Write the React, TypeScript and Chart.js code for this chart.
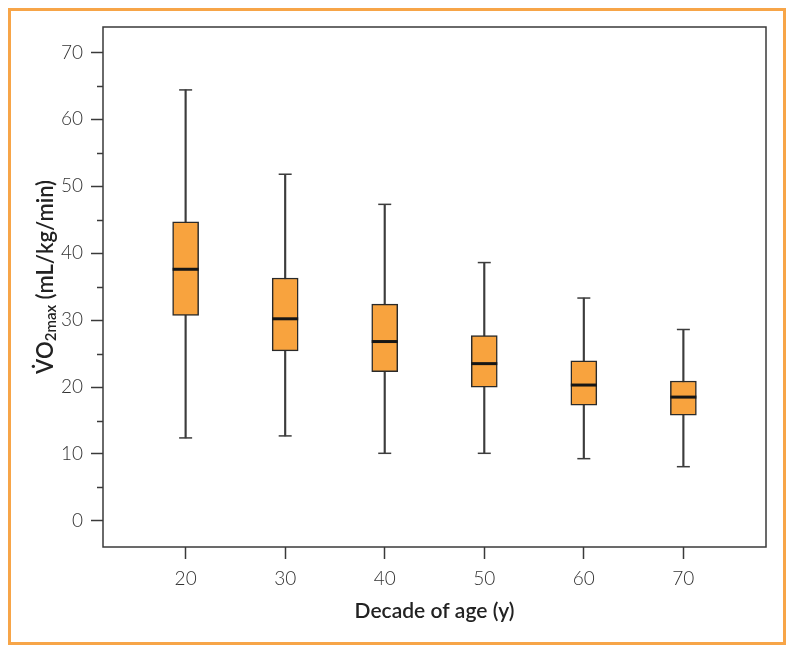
import React, { useEffect, useRef } from 'react';
import { Chart, registerables } from 'chart.js';

Chart.register(...registerables);

// ---- data ----
const DECADES = [20, 30, 40, 50, 60, 70];
const WHISKER_LOW = [12.4, 12.7, 10.1, 10.1, 9.3, 8.1];
const Q1 = [30.7, 25.4, 22.3, 20.0, 17.3, 15.8];
const MEDIAN = [37.6, 30.2, 26.8, 23.5, 20.3, 18.5];
const Q3 = [44.7, 36.3, 32.4, 27.7, 23.9, 20.9];
const WHISKER_HIGH = [64.4, 51.8, 47.3, 38.6, 33.3, 28.6];
const Y_MINOR_TICKS = [5, 15, 25, 35, 45, 55, 65];
const X_TITLE = 'Decade of age (y)';
const Y_TITLE_MAIN = 'V\u0307O';
const Y_TITLE_SUB = '2max';
const Y_TITLE_UNIT = ' (mL/kg/min)';

// ---- styles ----
const BOX_FILL = '#F8A33E';
const BOX_EDGE = '#2a2a2a';
const LINE_COLOR = '#3c3c3c';
const AXIS_COLOR = '#3a3a3a';
const TEXT_COLOR = '#333333';
const FONT = 'Lato, "Open Sans", "DejaVu Sans", sans-serif';

const decorations = {
  id: 'decorations',
  afterDraw(chart: any) {
    const { ctx, chartArea: a, scales } = chart;
    const y = scales.y;
    ctx.save();
    ctx.strokeStyle = AXIS_COLOR;
    ctx.lineWidth = 1.5;
    ctx.strokeRect(a.left, a.top, a.right - a.left, a.bottom - a.top);
    Y_MINOR_TICKS.forEach((v) => {
      const py = Math.round(y.getPixelForValue(v)) + 0.5;
      ctx.beginPath();
      ctx.moveTo(a.left - 6, py);
      ctx.lineTo(a.left, py);
      ctx.stroke();
    });
    // y-axis title with subscript
    const mainFont = `600 22px ${FONT}`;
    const subFont = `600 15px ${FONT}`;
    ctx.font = mainFont;
    const w1 = ctx.measureText(Y_TITLE_MAIN).width;
    const w3 = ctx.measureText(Y_TITLE_UNIT).width;
    ctx.font = subFont;
    const w2 = ctx.measureText(Y_TITLE_SUB).width;
    const total = w1 + w2 + w3;
    ctx.translate(53, (a.top + a.bottom) / 2 - 10);
    ctx.rotate(-Math.PI / 2);
    ctx.fillStyle = '#222';
    ctx.textBaseline = 'alphabetic';
    ctx.textAlign = 'left';
    let x0 = -total / 2;
    ctx.font = mainFont;
    ctx.fillText(Y_TITLE_MAIN, x0, 0);
    x0 += w1;
    ctx.font = subFont;
    ctx.fillText(Y_TITLE_SUB, x0, 3);
    x0 += w2;
    ctx.font = mainFont;
    ctx.fillText(Y_TITLE_UNIT, x0, 0);
    ctx.restore();
  },
};

export default function App() {
  const ref = useRef<HTMLCanvasElement>(null);

  useEffect(() => {
    const boxes = DECADES.map((d, i) => ({ x: d, y: [Q1[i], Q3[i]] }));
    const whiskers = DECADES.map((d, i) => ({ x: d, y: [WHISKER_LOW[i], WHISKER_HIGH[i]] }));
    const capsHigh = DECADES.map((d, i) => ({ x: d, y: WHISKER_HIGH[i] }));
    const capsLow = DECADES.map((d, i) => ({ x: d, y: WHISKER_LOW[i] }));
    const medians = DECADES.map((d, i) => ({ x: d, y: MEDIAN[i] }));

    const chart = new Chart(ref.current as HTMLCanvasElement, {
      type: 'bar',
      data: {
        datasets: [
          {
            type: 'line',
            data: medians as any,
            showLine: false,
            pointStyle: 'line',
            pointRadius: 13,
            pointBorderWidth: 3,
            pointBorderColor: '#161616',
            order: 0,
          } as any,
          {
            type: 'bar',
            data: boxes as any,
            backgroundColor: BOX_FILL,
            borderColor: BOX_EDGE,
            borderWidth: 1.5,
            borderSkipped: false,
            barThickness: 26,
            grouped: false,
            order: 1,
          } as any,
          {
            type: 'line',
            data: capsHigh as any,
            showLine: false,
            pointStyle: 'line',
            pointRadius: 6.5,
            pointBorderWidth: 1.5,
            pointBorderColor: LINE_COLOR,
            order: 2,
          } as any,
          {
            type: 'line',
            data: capsLow as any,
            showLine: false,
            pointStyle: 'line',
            pointRadius: 6.5,
            pointBorderWidth: 1.5,
            pointBorderColor: LINE_COLOR,
            order: 2,
          } as any,
          {
            type: 'bar',
            data: whiskers as any,
            backgroundColor: LINE_COLOR,
            borderWidth: 0,
            barThickness: 1.5,
            grouped: false,
            order: 3,
          } as any,
        ],
      },
      options: {
        responsive: false,
        animation: false,
        layout: { padding: { left: 0, right: 28, top: 27, bottom: 0 } },
        plugins: { legend: { display: false }, tooltip: { enabled: false } },
        scales: {
          x: {
            type: 'linear',
            min: 11.7,
            max: 78.3,
            offset: false,
            grid: {
              offset: false,
              drawOnChartArea: false,
              drawTicks: true,
              tickLength: 12,
              tickColor: AXIS_COLOR,
              tickWidth: 1.5,
            },
            border: { display: false },
            ticks: {
              stepSize: 10,
              includeBounds: false,
              color: TEXT_COLOR,
              padding: 8,
              font: { family: FONT, size: 19, weight: '300' as any },
              maxRotation: 0,
            },
            title: {
              display: true,
              text: X_TITLE,
              color: '#222',
              font: { family: FONT, size: 21, weight: '600' as any },
              padding: { top: 0, bottom: 30 },
            },
            afterFit: (s: any) => {
              s.height = 107;
            },
          },
          y: {
            type: 'linear',
            min: -3.9,
            max: 73.8,
            grid: {
              drawOnChartArea: false,
              drawTicks: true,
              tickLength: 12,
              tickColor: AXIS_COLOR,
              tickWidth: 1.5,
            },
            border: { display: false },
            ticks: {
              stepSize: 10,
              includeBounds: false,
              color: TEXT_COLOR,
              padding: 8,
              font: { family: FONT, size: 19, weight: '300' as any },
            },
            afterFit: (s: any) => {
              s.width = 103;
            },
          },
        },
      },
      plugins: [decorations],
    } as any);
    return () => chart.destroy();
  }, []);

  return (
    <div style={{ position: 'fixed', left: 0, top: 0, width: 794, height: 654, background: '#fff' }}>
      <div
        style={{
          position: 'absolute',
          left: 8,
          top: 8,
          width: 778,
          height: 637,
          boxSizing: 'border-box',
          border: '3px solid #F7A548',
        }}
      />
      <canvas ref={ref} width={794} height={654} style={{ position: 'absolute', left: 0, top: 0 }} />
    </div>
  );
}
